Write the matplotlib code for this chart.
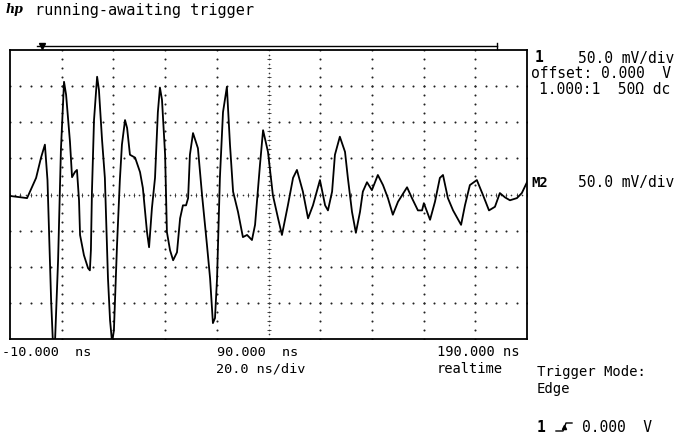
import numpy as np
import matplotlib
matplotlib.use("Agg")
import matplotlib.pyplot as plt
from matplotlib.lines import Line2D

# Trace: time (ns) and amplitude (mV)
t_ns = [-10, -3.4, 0.1, 2.0, 3.5, 4.5, 5.9, 6.6, 7.4, 8.6, 9.7, 10.9, 11.7, 13.2, 14.0,
        15.1, 15.9, 16.7, 17.1, 18.6, 20.2, 20.9, 21.3, 21.7, 22.5, 23.7, 24.4, 25.6,
        26.7, 27.9, 28.7, 29.5, 30.2, 31.4, 32.5, 33.3, 34.5, 35.3, 36.4, 38.4, 40.3,
        41.4, 43.0, 43.8, 44.9, 46.1, 47.2, 48.0, 48.8, 50.0, 50.7, 51.9, 53.1, 54.6,
        55.8, 56.9, 58.1, 58.9, 59.6, 60.8, 62.7, 64.3, 66.2, 67.4, 68.5, 69.3, 70.1,
        71.2, 72.4, 73.9, 75.1, 76.3, 78.2, 80.1, 81.7, 83.6, 84.8, 86.7, 87.9, 89.8,
        91.7, 93.7, 95.2, 97.5, 99.5, 101.0, 103.3, 105.3, 107.2, 109.9, 111.9, 113.0,
        114.6, 115.7, 117.6, 119.6, 120.7, 122.3, 123.8, 125.4, 126.5, 128.1, 130.0,
        132.3, 134.3, 136.2, 138.1, 140.1, 143.6, 145.5, 147.8, 149.4, 150.1, 152.5,
        154.4, 156.3, 157.5, 159.4, 161.4, 164.5, 166.0, 167.9, 170.6, 173.0, 175.3,
        177.6, 179.5, 181.5, 183.4, 186.1, 188.0, 190.0]
v_mv = [-2, -5, 23, 51, 69, 20, -146, -205, -205, -91, 62, 156, 138, 73, 24,
        31, 34, -8, -56, -84, -102, -105, -77, 4, 103, 163, 145, 76,
        23, -116, -174, -205, -188, -70, 20, 69, 103, 92, 55, 51, 31,
        9, -52, -73, -19, 23, 114, 148, 131, 55, -52, -77, -91, -80,
        -33, -15, -15, -5, 55, 85, 64, -1, -70, -116, -178, -171, -116,
        23, 114, 149, 69, 4, -24, -59, -56, -63, -42, 41, 89, 59,
        -1, -33, -56, -15, 23, 34, 4, -33, -15, 20, -15, -22,
        4, 55, 80, 59, 23, -24, -53, -24, 4, 17, 6,
        27, 13, -5, -28, -10, 10, -5, -22, -22, -12, -35,
        -10, 23, 27, -5, -22, -42, -15, 13, 20, -1, -22,
        -17, 2, -4, -8, -5, 2, 17]

t_left, t_center, t_right = -10, 90, 190
ns_per_div = 20
mv_per_div = 50

W, H = 687, 434
fig = plt.figure(figsize=(W / 100, H / 100), dpi=100)
fig.patch.set_facecolor("white")
MONO = "DejaVu Sans Mono"


def px_text(x, y, s, size=10, **kw):
    # place text using pixel positions of the screenshot
    fig.text(x / W, 1 - y / H, s, fontsize=size, family=MONO, va="center",
             color="black", **kw)


ax = fig.add_axes([10 / W, (H - 339) / H, 517 / W, 289 / H])
ax.set_xlim(t_left, t_right)
ax.set_ylim(-4 * mv_per_div, 4 * mv_per_div)
ax.set_xticks([])
ax.set_yticks([])
for s in ax.spines.values():
    s.set_linewidth(1.3)

# dotted graticule
dot = dict(color="#222222", s=2.2, linewidths=0, zorder=1)
xs_fine = np.arange(t_left, t_right + 0.01, ns_per_div / 5)
ys_fine = np.arange(-200, 200.01, mv_per_div / 4)
for yv in [-150, -100, -50, 50, 100, 150]:
    ax.scatter(xs_fine, np.full_like(xs_fine, yv), **dot)
for xv in [10, 30, 50, 70, 110, 130, 150, 170]:
    ax.scatter(np.full_like(ys_fine, xv), ys_fine, **dot)

# centre axes with finer dots and small ticks
xs_c = np.arange(t_left, t_right + 0.01, ns_per_div / 10)
ax.scatter(xs_c, np.zeros_like(xs_c), color="#333333", s=1.4, linewidths=0, zorder=1)
ax.scatter(xs_fine, np.zeros_like(xs_fine), marker="|", color="#333333", s=10,
           linewidths=0.6, zorder=1)
ys_c = np.arange(-200, 200.01, mv_per_div / 8)
ax.scatter(np.full_like(ys_c, t_center), ys_c, color="#333333", s=1.4, linewidths=0, zorder=1)
ax.scatter(np.full_like(ys_fine, t_center), ys_fine, marker="_", color="#333333", s=10,
           linewidths=0.6, zorder=1)

# the trace
ax.plot(t_ns, v_mv, color="black", linewidth=1.3, zorder=3)

# memory bar above the screen
fig.add_artist(Line2D([37 / W, 497 / W], [1 - 46 / H, 1 - 46 / H], color="black", lw=1.0))
fig.add_artist(Line2D([497 / W, 497 / W], [1 - 43 / H, 1 - 49 / H], color="black", lw=1.0))
fig.add_artist(Line2D([42 / W], [1 - 45.5 / H], marker="v", markersize=5, color="black"))

# header
fig.text(6 / W, 1 - 10 / H, "hp", fontsize=9, family="DejaVu Serif", style="italic",
         weight="bold", va="center")
px_text(35, 10, "running-awaiting trigger", size=11)

# right side channel info
px_text(535, 58, "1", size=10.5, weight="bold")
px_text(578, 58, "50.0 mV/div", size=10.5)
px_text(531, 73, "offset: 0.000  V", size=10.5)
px_text(539, 89, "1.000:1  50Ω dc", size=10.5)
px_text(531, 183, "M2", size=10, weight="bold")
px_text(578, 183, "50.0 mV/div", size=10.5)

# time base labels
px_text(2, 352, "-10.000  ns", size=9.7)
px_text(217, 352, "90.000  ns", size=9.7)
px_text(216, 369, "20.0 ns/div", size=9.7)
px_text(437, 352, "190.000 ns", size=9.9)
px_text(437, 369, "realtime", size=9.9)
px_text(537, 372, "Trigger Mode:", size=10)
px_text(537, 389, "Edge", size=10)

# trigger line
px_text(537, 428, "1", size=10.5, weight="bold")
edge_x = np.array([556, 563, 566, 572]) / W
edge_y = 1 - np.array([431, 431, 423, 423]) / H
fig.add_artist(Line2D(edge_x, edge_y, color="black", lw=1.0))
fig.add_artist(Line2D([564 / W], [1 - 427 / H], marker="^", markersize=3, color="black"))
px_text(582, 428, "0.000  V", size=10.5)

fig.savefig("out.png", dpi=100, facecolor="white")
